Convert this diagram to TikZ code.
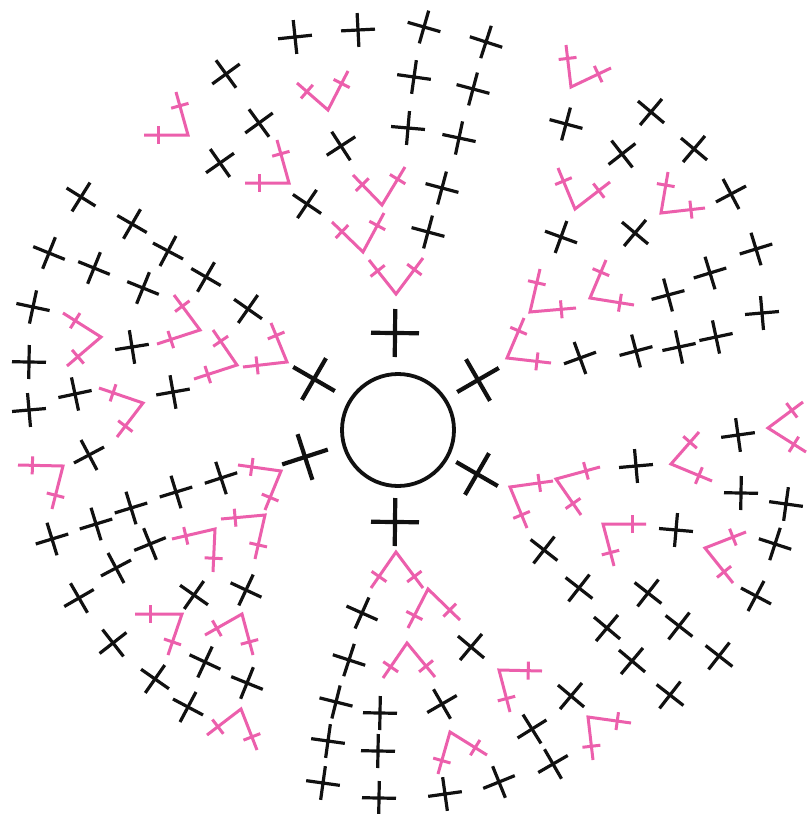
\documentclass[tikz,border=0pt]{standalone}
\usetikzlibrary{calc}
\definecolor{stitchpink}{HTML}{EC5FAC}
\definecolor{stitchblack}{HTML}{111111}
\tikzset{
  smallcross/.style={draw=stitchblack,line width=3.2pt},
  bigcross/.style={draw=stitchblack,line width=4.2pt},
  pinkarm/.style={draw=stitchpink,line width=3pt,line join=miter},
  pinktick/.style={draw=stitchpink,line width=3pt},
  ringline/.style={draw=stitchblack,line width=3.8pt}
}
\newcommand{\crossat}[5]{% style, half length, x, y, angle
  \draw[#1] (#3,#4) ++(#5:#2) -- ++(#5+180:2*#2);
  \draw[#1] (#3,#4) ++(#5+90:#2) -- ++(#5+270:2*#2);
}
\newcommand{\stitchvee}[6]{% apex, end 1, end 2
  \coordinate (A) at (#1,#2);
  \coordinate (E) at (#3,#4);
  \coordinate (F) at (#5,#6);
  \draw[pinkarm] (E) -- (A) -- (F);
  \coordinate (T) at ($(A)!.68!(E)$);
  \draw[pinktick] ($(T)!9pt!90:(A)$) -- ($(T)!9pt!-90:(A)$);
  \coordinate (U) at ($(A)!.68!(F)$);
  \draw[pinktick] ($(U)!9pt!90:(A)$) -- ($(U)!9pt!-90:(A)$);
}
\begin{document}
\begin{tikzpicture}[x=1pt,y=-1pt]
\useasboundingbox (0,0) rectangle (806,814);
\fill[white] (0,0) rectangle (806,814);
% centre ring
\draw[ringline] (398,430) circle (56);
% first round
\foreach \x/\y/\a in {395/333/0.6,478/380/-30,477/474/30,395/522/0.6,305/457/-18,314/379/30}
  {\crossat{bigcross}{24}{\x}{\y}{\a}}
% small black stitches
\foreach \x/\y/\a in {
  295/37/-6,358/30/-3,226/74/-36,259/123/-36,341/146/-33,220/163/-35,307/204/34,
  81/197/32,132/224/30,168/251/28,206/277/30,248/309/35,49/253/22,94/268/22,143/288/22,
  33/307/12,132/347/-9,29/362/1,75/394/-12,29/410/-5,173/392/-10,89/455/-28,
  221/478/-18,176/492/-17,131/508/-17,96/524/-17,52/539/-17,150/544/-22,116/568/-28,
  79/598/-30,113/643/-38,194/595/35,246/590/25,205/662/25,247/683/22,155/679/35,188/707/28,
  362/613/24,349/660/18,336/702/14,328/741/8,323/783/8,380/713/1,378/751/1,379/798/1,
  738/435/-8,636/466/-5,741/493/1,786/504/8,676/530/5,775/544/18,544/550/38,756/596/28,
  579/588/38,648/593/38,607/628/40,679/626/38,719/656/38,632/661/40,670/695/38,
  471/647/40,571/696/40,442/704/-30,532/729/-32,553/764/-30,499/782/-22,445/794/-8,
  424/27/16,486/42/18,414/77/8,473/89/15,408/128/5,459/138/12,442/188/15,428/232/15,
  566/124/15,651/112/40,694/149/40,622/154/-38,731/194/-28,561/237/20,635/233/40,
  756/249/-17,710/273/-17,668/295/-15,762/313/-5,716/337/-12,679/347/-12,636/351/-15,580/358/-20}
  {\crossat{smallcross}{17}{\x}{\y}{\a}}
% pink stitches
\stitchvee{188}{135}{144}{135}{176}{92}
\stitchvee{289}{183}{245}{183}{277}{140}
\stitchvee{328}{110}{297}{83}{348}{71}
\stitchvee{382}{205}{353}{175}{405}{167}
\stitchvee{363}{252}{332}{222}{384}{213}
\stitchvee{396}{294}{369}{260}{423}{258}
\stitchvee{200}{330}{157}{344}{174}{295}
\stitchvee{237}{365}{194}{379}{213}{330}
\stitchvee{287}{362}{243}{367}{271}{323}
\stitchvee{101}{337}{63}{313}{67}{366}
\stitchvee{143}{403}{99}{388}{117}{437}
\stitchvee{63}{466}{18}{465}{52}{509}
\stitchvee{281}{471}{238}{465}{265}{510}
\stitchvee{265}{515}{221}{519}{255}{559}
\stitchvee{215}{529}{172}{539}{213}{572}
\stitchvee{182}{614}{135}{614}{168}{655}
\stitchvee{242}{614}{205}{635}{253}{655}
\stitchvee{241}{709}{207}{735}{257}{750}
\stitchvee{396}{552}{371}{588}{423}{588}
\stitchvee{428}{589}{408}{628}{460}{620}
\stitchvee{407}{643}{383}{678}{435}{677}
\stitchvee{450}{732}{438}{774}{487}{755}
\stitchvee{499}{670}{542}{671}{510}{712}
\stitchvee{588}{717}{631}{723}{593}{760}
\stitchvee{510}{487}{553}{481}{527}{528}
\stitchvee{556}{479}{600}{467}{581}{515}
\stitchvee{671}{464}{699}{432}{712}{481}
\stitchvee{603}{524}{646}{524}{614}{566}
\stitchvee{705}{548}{746}{532}{733}{583}
\stitchvee{768}{428}{803}{402}{806}{452}
\stitchvee{571}{87}{566}{45}{611}{68}
\stitchvee{575}{209}{558}{168}{610}{182}
\stitchvee{661}{213}{668}{172}{705}{208}
\stitchvee{530}{312}{540}{269}{576}{308}
\stitchvee{590}{298}{606}{260}{634}{305}
\stitchvee{507}{358}{524}{318}{551}{363}
\end{tikzpicture}
\end{document}
